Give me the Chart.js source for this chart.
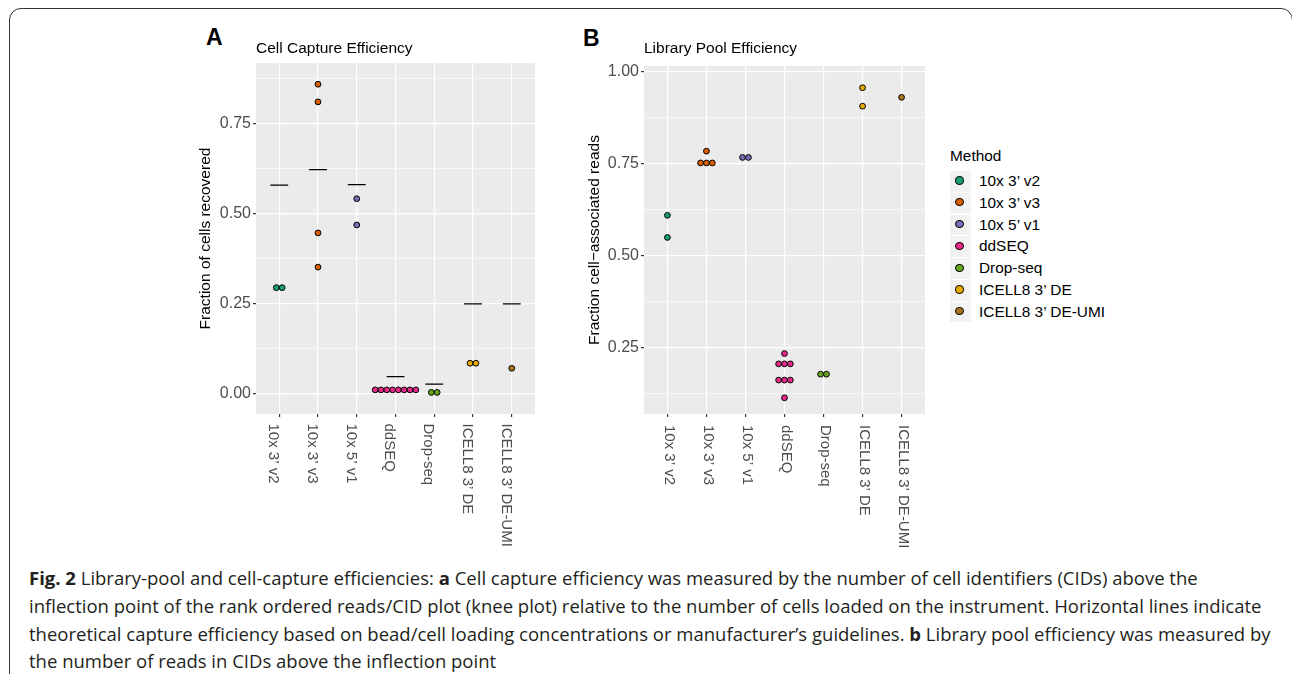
<!DOCTYPE html>
<html>
<head>
<meta charset="utf-8">
<script src="https://cdn.jsdelivr.net/npm/chart.js@4/dist/chart.umd.min.js"></script>
<style>
  html, body { margin: 0; padding: 0; background: #fff; width: 1292px; height: 674px; overflow: hidden; }
  body { position: relative; font-family: 'Liberation Sans', Arial, sans-serif; }
  #frame { position: absolute; left: 9px; top: 8px; width: 1284px; height: 720px; box-sizing: border-box;
           border: 1.5px solid #333; border-radius: 12px; }
  canvas { position: absolute; }
  #capture { left: 150px; top: 30px; }
  #pool { left: 540px; top: 30px; }
  .panel-letter { position: absolute; font-weight: bold; font-size: 23px; line-height: 1; color: #000; }
  #legend { position: absolute; left: 950px; top: 147px; font-size: 15.4px; color: #000; }
  #legend .ttl { height: 24px; line-height: 18px; }
  #legend .row { position: relative; height: 21.8px; }
  #legend .key { position: absolute; left: 0; top: 0; width: 20.7px; height: 20.7px; background: #F2F2F2; }
  #legend .dot { position: absolute; left: 6.35px; top: 6.35px; width: 6.2px; height: 6.2px; border-radius: 50%;
                 border: 1px solid #000; margin: -1px 0 0 -1px; }
  #legend .lbl { position: absolute; left: 29px; top: 0; line-height: 20.7px; white-space: nowrap; }
  #caption { position: absolute; left: 29px; top: 564px; font-family: 'Open Sans', sans-serif; font-size: 18.5px;
             line-height: 27.8px; color: #231F20; white-space: nowrap; }
</style>
</head>
<body>
<div id="frame"></div>
<div class="panel-letter" style="left:206px; top:26px;">A</div>
<div class="panel-letter" style="left:583px; top:27px;">B</div>
<canvas id="capture" width="400" height="530"></canvas>
<canvas id="pool" width="400" height="530"></canvas>
<div id="legend"></div>
<div id="caption">
<b>Fig. 2</b> Library-pool and cell-capture efficiencies: <b>a</b> Cell capture efficiency was measured by the number of cell identifiers (CIDs) above the<br>
inflection point of the rank ordered reads/CID plot (knee plot) relative to the number of cells loaded on the instrument. Horizontal lines indicate<br>
theoretical capture efficiency based on bead/cell loading concentrations or manufacturer’s guidelines. <b>b</b> Library pool efficiency was measured by<br>
the number of reads in CIDs above the inflection point
</div>
<script>
// methods (x categories) and Dark2 colours
var methods = ['10x 3’ v2', '10x 3’ v3', '10x 5’ v1', 'ddSEQ', 'Drop-seq', 'ICELL8 3’ DE', 'ICELL8 3’ DE-UMI'];
var methodColors = ['#1B9E77', '#D95F02', '#7570B3', '#E7298A', '#66A61E', '#E6AB02', '#A6761D'];

// A: fraction of cells recovered, one array per method
var captureFractions = [
    [0.295, 0.295],
    [0.860, 0.811, 0.447, 0.352],
    [0.542, 0.469],
    [0.011, 0.011, 0.011, 0.011, 0.011, 0.011, 0.011, 0.011],
    [0.004, 0.004],
    [0.085, 0.085],
    [0.071]
];
// A: theoretical capture efficiency (horizontal lines)
var captureTheoretical = [0.580, 0.623, 0.581, 0.048, 0.027, 0.250, 0.250];
var captureTicks = [0, 0.25, 0.5, 0.75];

// B: fraction cell-associated reads
var poolFractions = [
    [0.609, 0.549],
    [0.783, 0.751, 0.751, 0.751],
    [0.766, 0.766],
    [0.234, 0.206, 0.206, 0.206, 0.162, 0.162, 0.162, 0.114],
    [0.178, 0.178],
    [0.955, 0.905],
    [0.929]
];
var poolTicks = [0.25, 0.5, 0.75, 1.00];

var FONT = "'Liberation Sans', Arial, sans-serif";
var DOT_STEP = 0.15; // stacking width of one dot, in category units

// equal values are stacked side by side, centred on the category
function dotPoints(values, i) {
    var counts = {}, seen = {};
    values.forEach(function (v) { counts[v] = (counts[v] || 0) + 1; });
    return values.map(function (v) {
        seen[v] = seen[v] === undefined ? 0 : seen[v] + 1;
        return {x: i + (seen[v] - (counts[v] - 1) / 2) * DOT_STEP, y: v};
    });
}

function isMajor(majors, v) {
    return majors.some(function (m) { return Math.abs(m - v) < 1e-6; });
}

function gridTicks(majors, min, max) {
    var half = (majors[1] - majors[0]) / 2;
    var out = [];
    var start = majors[0] - Math.ceil((majors[0] - min) / half) * half;
    for (var v = start; v <= max + 1e-9; v += half) {
        if (v >= min - 1e-9) out.push({value: +v.toFixed(4)});
    }
    return out;
}

var panelBg = {
    id: 'panelBg',
    beforeDraw: function (chart) {
        var a = chart.chartArea, ctx = chart.ctx;
        ctx.save();
        ctx.fillStyle = '#EBEBEB';
        ctx.fillRect(a.left, a.top, a.right - a.left, a.bottom - a.top);
        ctx.restore();
    }
};

// x labels read top to bottom, as in ggplot's angle = 270
var xLabels = {
    id: 'xLabels',
    afterDraw: function (chart, args, opts) {
        var scale = chart.scales.x, ctx = chart.ctx;
        ctx.save();
        ctx.fillStyle = '#4D4D4D';
        ctx.font = '15px ' + FONT;
        ctx.textAlign = 'left';
        ctx.textBaseline = 'middle';
        methods.forEach(function (m, i) {
            ctx.save();
            ctx.translate(scale.getPixelForValue(i) + opts.shift, chart.chartArea.bottom + opts.gap);
            ctx.rotate(Math.PI / 2);
            ctx.fillText(m, 0, 0);
            ctx.restore();
        });
        ctx.restore();
    }
};

function makeChart(canvasId, cfg) {
    var datasets = [];
    cfg.values.forEach(function (vals, i) {
        datasets.push({
            label: methods[i],
            data: dotPoints(vals, i),
            backgroundColor: methodColors[i],
            borderColor: '#000',
            borderWidth: 1,
            pointRadius: 2.9,
            pointHoverRadius: 2.9
        });
    });
    if (cfg.lines) {
        var seg = [];
        cfg.lines.forEach(function (v, i) {
            seg.push({x: i - 0.23, y: v}, {x: i + 0.23, y: v}, {x: i, y: null});
        });
        datasets.push({
            label: 'theoretical',
            data: seg,
            showLine: true,
            spanGaps: false,
            borderColor: '#000',
            borderWidth: 1.2,
            pointRadius: 0
        });
    }

    return new Chart(document.getElementById(canvasId), {
        type: 'scatter',
        data: {datasets: datasets},
        options: {
            responsive: false,
            animation: false,
            events: [],
            layout: {padding: {top: 9.9, left: 0, right: 15, bottom: 0}},
            plugins: {
                legend: {display: false},
                tooltip: {enabled: false},
                title: {
                    display: true,
                    text: cfg.title,
                    align: 'start',
                    fullSize: false,
                    color: '#000',
                    font: {family: FONT, size: 15.5, weight: 'normal'},
                    padding: {top: 0, bottom: cfg.titleGap}
                },
                xLabels: cfg.xLabel
            },
            scales: {
                x: {
                    type: 'linear',
                    min: -0.6,
                    max: methods.length - 0.4,
                    afterBuildTicks: function (s) {
                        s.ticks = methods.map(function (m, i) { return {value: i}; });
                    },
                    afterFit: function (s) { s.height = 146; },
                    ticks: {display: false},
                    grid: {color: '#FFFFFF', lineWidth: 1.2, tickColor: '#333333', tickLength: 3},
                    border: {display: false}
                },
                y: {
                    type: 'linear',
                    min: cfg.range[0],
                    max: cfg.range[1],
                    afterBuildTicks: function (s) {
                        s.ticks = gridTicks(cfg.majors, cfg.range[0], cfg.range[1]);
                    },
                    afterFit: function (s) { s.width = cfg.yWidth; },
                    ticks: {
                        autoSkip: false,
                        padding: 2,
                        color: '#4D4D4D',
                        font: {family: FONT, size: 16},
                        callback: function (v) { return isMajor(cfg.majors, v) ? v.toFixed(2) : ''; }
                    },
                    grid: {
                        color: '#FFFFFF',
                        lineWidth: function (c) { return c.tick && isMajor(cfg.majors, c.tick.value) ? 1.2 : 0.6; },
                        tickColor: function (c) { return c.tick && isMajor(cfg.majors, c.tick.value) ? '#333333' : 'rgba(0,0,0,0)'; },
                        tickLength: 3
                    },
                    border: {display: false},
                    title: {
                        display: true,
                        text: cfg.yTitle,
                        color: '#000',
                        font: {family: FONT, size: 15.5},
                        padding: {top: cfg.yTitlePad, bottom: 0}
                    }
                }
            }
        },
        plugins: [panelBg, xLabels]
    });
}

makeChart('capture', {
    title: 'Cell Capture Efficiency',
    titleGap: 4.5,
    yTitle: 'Fraction of cells recovered',
    yTitlePad: 46,
    yWidth: 106,
    values: captureFractions,
    lines: captureTheoretical,
    majors: captureTicks,
    range: [-0.056, 0.919],
    xLabel: {shift: -6, gap: 9.5}
});

makeChart('pool', {
    title: 'Library Pool Efficiency',
    titleGap: 7.5,
    yTitle: 'Fraction cell\u2212associated reads',
    yTitlePad: 45.3,
    yWidth: 104,
    values: poolFractions,
    lines: null,
    majors: poolTicks,
    range: [0.070, 1.014],
    xLabel: {shift: 2, gap: 11}
});

// legend
var legend = document.getElementById('legend');
var html = '<div class="ttl">Method</div>';
methods.forEach(function (m, i) {
    html += '<div class="row"><div class="key"><div class="dot" style="background:' + methodColors[i] +
        '"></div></div><div class="lbl">' + m + '</div></div>';
});
legend.innerHTML = html;
</script>
</body>
</html>
